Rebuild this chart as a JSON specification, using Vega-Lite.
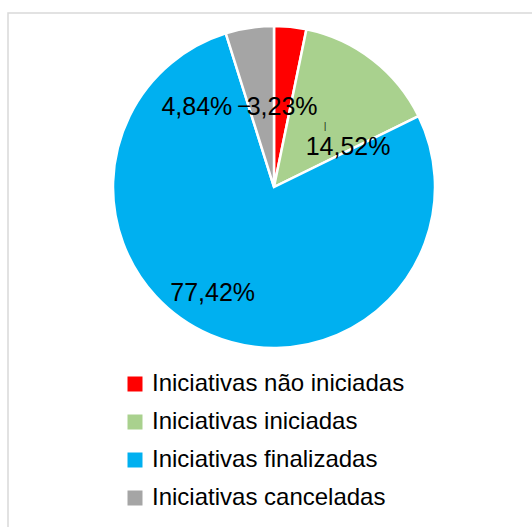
{
  "$schema": "https://vega.github.io/schema/vega-lite/v6.json",
  "width": 532,
  "height": 520,
  "padding": {"left": 8, "top": 13, "right": 0, "bottom": 0},
  "background": "white",
  "view": {"stroke": "#d9d9d9", "strokeWidth": 1.5, "fill": "white"},
  "config": {
    "font": "Liberation Sans"
  },
  "data": {
    "values": [
      {"categoria": "Iniciativas não iniciadas", "ordem": 1, "valor": 3.23, "rotulo": "3,23%"},
      {"categoria": "Iniciativas iniciadas", "ordem": 2, "valor": 14.52, "rotulo": "14,52%"},
      {"categoria": "Iniciativas finalizadas", "ordem": 3, "valor": 77.42, "rotulo": "77,42%"},
      {"categoria": "Iniciativas canceladas", "ordem": 4, "valor": 4.84, "rotulo": "4,84%"}
    ]
  },
  "encoding": {
    "theta": {"field": "valor", "type": "quantitative", "stack": true},
    "order": {"field": "ordem", "type": "quantitative"}
  },
  "layer": [
    {
      "mark": {"type": "arc", "outerRadius": 161, "y": 174, "stroke": "white", "strokeWidth": 2.5},
      "encoding": {
        "color": {
          "field": "categoria",
          "type": "nominal",
          "scale": {
            "domain": ["Iniciativas não iniciadas", "Iniciativas iniciadas", "Iniciativas finalizadas", "Iniciativas canceladas"],
            "range": ["#ff0000", "#a9d18e", "#00b0f0", "#a5a5a5"]
          },
          "legend": {
            "title": null,
            "orient": "none",
            "legendX": 115,
            "legendY": 359,
            "direction": "vertical",
            "symbolType": "square",
            "symbolSize": 225,
            "symbolStrokeWidth": 0,
            "labelFontSize": 24,
            "labelFont": "Liberation Sans",
            "labelColor": "#000000",
            "labelOffset": 5,
            "rowPadding": 14,
            "labelLimit": 400
          }
        }
      }
    },
    {
      "mark": {"type": "text", "y": 174, "radius": 80, "fontSize": 25, "font": "Liberation Sans", "color": "black", "align": "center", "baseline": "middle"},
      "encoding": {"text": {"condition": {"test": "datum.ordem === 1", "field": "rotulo"}, "value": ""}}
    },
    {
      "mark": {"type": "text", "y": 174, "radius": 85, "dx": 22, "dy": 27, "fontSize": 25, "font": "Liberation Sans", "color": "black", "align": "center", "baseline": "middle"},
      "encoding": {"text": {"condition": {"test": "datum.ordem === 2", "field": "rotulo"}, "value": ""}}
    },
    {
      "mark": {"type": "text", "y": 174, "radius": 115, "dx": -16, "dy": 0, "fontSize": 25, "font": "Liberation Sans", "color": "black", "align": "center", "baseline": "middle"},
      "encoding": {"text": {"condition": {"test": "datum.ordem === 3", "field": "rotulo"}, "value": ""}}
    },
    {
      "mark": {"type": "text", "y": 174, "radius": 80, "dx": -65, "dy": -1, "fontSize": 25, "font": "Liberation Sans", "color": "black", "align": "center", "baseline": "middle"},
      "encoding": {"text": {"condition": {"test": "datum.ordem === 4", "field": "rotulo"}, "value": ""}}
    },
    {
      "mark": {"type": "text", "y": 174, "radius": 80, "dx": -18, "dy": -1, "fontSize": 19, "font": "DejaVu Sans", "color": "black", "align": "center", "baseline": "middle"},
      "encoding": {"text": {"condition": {"test": "datum.ordem === 4", "value": "─"}, "value": ""}}
    },
    {
      "mark": {"type": "text", "y": 174, "radius": 85, "dx": -1, "dy": 7, "fontSize": 8, "font": "DejaVu Sans", "color": "black", "align": "center", "baseline": "middle"},
      "encoding": {"text": {"condition": {"test": "datum.ordem === 2", "value": "|"}, "value": ""}}
    }
  ]
}
